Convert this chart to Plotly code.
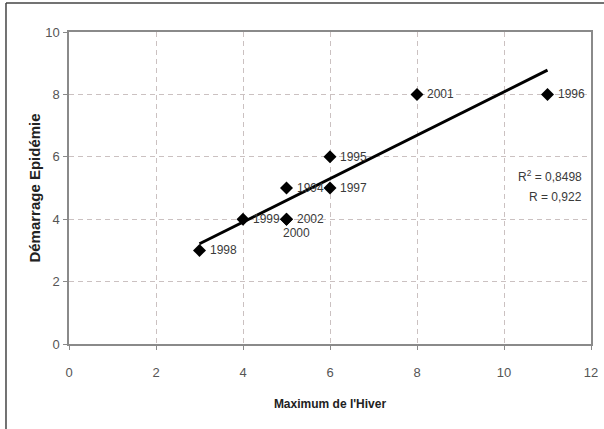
import numpy as np
import plotly.graph_objects as go

# Data
years = ["1998", "1999", "2000", "2002", "1994", "1995", "1997", "2001", "1996"]
max_hiver = [3, 4, 5, 5, 5, 6, 6, 8, 11]
demarrage = [3, 4, 4, 4, 5, 6, 5, 8, 8]
stats_text = ["R<sup>2</sup> = 0,8498", "R = 0,922"]
x_ticks = [0, 2, 4, 6, 8, 10, 12]
y_ticks = [0, 2, 4, 6, 8, 10]

REG = "Liberation Sans, Arial, sans-serif"

# Linear trend fitted on the data
slope, intercept = np.polyfit(max_hiver, demarrage, 1)
xt = np.array([min(max_hiver), max(max_hiver)])
yt = slope * xt + intercept

fig = go.Figure()
fig.add_trace(go.Scatter(x=xt, y=yt, mode="lines",
                         line=dict(color="black", width=3), hoverinfo="skip",
                         showlegend=False))
fig.add_trace(go.Scatter(x=max_hiver, y=demarrage, mode="markers",
                         marker=dict(symbol="diamond", size=10, color="black"),
                         showlegend=False))

# point labels
for yr, xv, yv in zip(years, max_hiver, demarrage):
    if yr == "2000":
        xs, ys = -6, -14
    else:
        xs, ys = 8, 0
    fig.add_annotation(x=xv, y=yv, text=yr, showarrow=False, xanchor="left",
                       yanchor="middle", xshift=xs, yshift=ys,
                       font=dict(family=REG, size=12, color="#3a3a3a"))

fig.add_annotation(x=11.85, y=5.38, text=stats_text[0], showarrow=False,
                   xanchor="right", yanchor="middle",
                   font=dict(family=REG, size=12, color="#3a3a3a"))
fig.add_annotation(x=11.85, y=4.71, text=stats_text[1], showarrow=False,
                   xanchor="right", yanchor="middle",
                   font=dict(family=REG, size=12, color="#3a3a3a"))

# outer frame (top and left edges)
fig.add_shape(type="line", xref="paper", yref="paper",
              x0=-0.1207, x1=-0.1207, y0=-0.3, y1=1.0929,
              line=dict(color="#444444", width=1.5))
fig.add_shape(type="line", xref="paper", yref="paper",
              x0=-0.1207, x1=1.05, y0=1.0929, y1=1.0929,
              line=dict(color="#444444", width=1.5))

axis_common = dict(
    showgrid=True, gridcolor="#cbc1c1", griddash="5px,4px", gridwidth=1,
    showline=True, linecolor="#8a8a8a", linewidth=1.5, mirror=True,
    ticks="outside", ticklen=4, tickcolor="#8a8a8a", zeroline=False,
    tickfont=dict(family=REG, size=13, color="#555555"),
)

fig.update_xaxes(range=[0, 12], tickvals=x_ticks, ticklabelstandoff=12,
                 title=dict(text="<b>Maximum de l'Hiver</b>", standoff=20,
                            font=dict(family=REG, size=12, color="#222222")),
                 **axis_common)
fig.update_yaxes(range=[0, 10], tickvals=y_ticks, ticklabelstandoff=1,
                 title=dict(text="<b>Démarrage Epidémie</b>", standoff=1,
                            font=dict(family=REG, size=15, color="#222222")),
                 **axis_common)

fig.update_layout(
    width=604, height=429,
    margin=dict(l=69, r=13, t=32, b=85, autoexpand=False),
    paper_bgcolor="white", plot_bgcolor="white",
)

fig.write_html("out.html", config={"displayModeBar": False},
               post_script="document.body.style.margin='0';document.body.style.padding='0';")
